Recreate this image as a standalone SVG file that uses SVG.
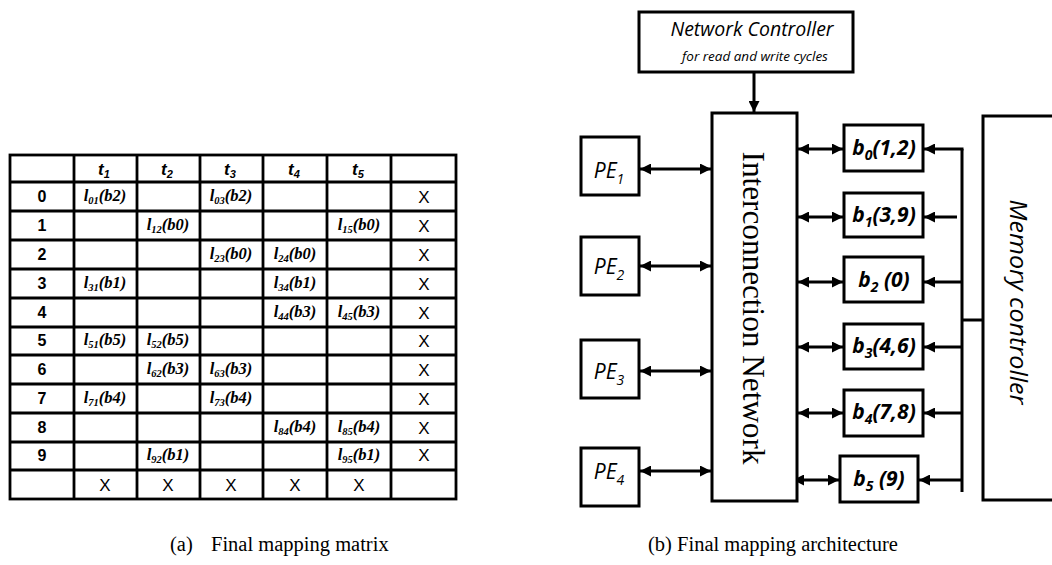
<svg xmlns="http://www.w3.org/2000/svg" width="1052" height="565" viewBox="0 0 1052 565">
<defs>
<marker id="ah" markerUnits="userSpaceOnUse" markerWidth="11" markerHeight="11" refX="10" refY="5" orient="auto-start-reverse" viewBox="0 0 10 10">
<path d="M0,0 L10,5 L0,10 z" fill="#000"/>
</marker>
<style>
.grid{stroke:#000;stroke-width:2.8;fill:none}
.rl{font-family:"Liberation Sans",Arial,sans-serif;font-weight:bold;font-size:16px;text-anchor:middle}
.hd{font-family:"Liberation Sans",Arial,sans-serif;font-weight:bold;font-style:italic;font-size:17px;text-anchor:middle}
.ce{font-family:"Liberation Serif","Times New Roman",serif;font-weight:bold;font-style:italic;font-size:16.5px;text-anchor:middle}
.x{font-family:"Liberation Sans",Arial,sans-serif;font-size:17px;text-anchor:middle}
.box{fill:#fff;stroke:#000;stroke-width:3}
.con{stroke:#000;stroke-width:3;fill:none}
.arr{marker-end:url(#ah)}
.dbl{marker-start:url(#ah);marker-end:url(#ah)}
.pe{font-family:"Open Sans","Liberation Sans",sans-serif;font-style:italic;font-size:21px;text-anchor:middle}
.bb{font-family:"Open Sans","Liberation Sans",sans-serif;font-style:italic;font-weight:bold;font-size:21px;text-anchor:middle}
.cap{font-family:"Liberation Serif","Times New Roman",serif;font-size:20.5px}
</style>
</defs>
<rect width="1052" height="565" fill="#fff"/>

<g id="matrix">
<g class="grid">
<rect x="10" y="155" width="446" height="344"/>
<path d="M74,155V499M137,155V499M200,155V499M263,155V499M327,155V499M391,155V499"/>
<path d="M10,182H456M10,211H456M10,240H456M10,269H456M10,298H456M10,327H456M10,355H456M10,384H456M10,413H456M10,442H456M10,470H456"/>
</g>
<g>
<text class="hd" x="104" y="175">t<tspan font-size="11" dy="3">1</tspan></text>
<text class="hd" x="167" y="175">t<tspan font-size="11" dy="3">2</tspan></text>
<text class="hd" x="230" y="175">t<tspan font-size="11" dy="3">3</tspan></text>
<text class="hd" x="294" y="175">t<tspan font-size="11" dy="3">4</tspan></text>
<text class="hd" x="358" y="175">t<tspan font-size="11" dy="3">5</tspan></text>
</g>
<g>
<text class="rl" x="42" y="202">0</text>
<text class="rl" x="42" y="231">1</text>
<text class="rl" x="42" y="260">2</text>
<text class="rl" x="42" y="289">3</text>
<text class="rl" x="42" y="318">4</text>
<text class="rl" x="42" y="346">5</text>
<text class="rl" x="42" y="375">6</text>
<text class="rl" x="42" y="404">7</text>
<text class="rl" x="42" y="433">8</text>
<text class="rl" x="42" y="461">9</text>
</g>
<g>
<text class="ce" x="105" y="201">l<tspan font-size="10.5" dy="3">01</tspan><tspan dy="-3">(b2)</tspan></text>
<text class="ce" x="231" y="201">l<tspan font-size="10.5" dy="3">03</tspan><tspan dy="-3">(b2)</tspan></text>
<text class="ce" x="168" y="230">l<tspan font-size="10.5" dy="3">12</tspan><tspan dy="-3">(b0)</tspan></text>
<text class="ce" x="359" y="230">l<tspan font-size="10.5" dy="3">15</tspan><tspan dy="-3">(b0)</tspan></text>
<text class="ce" x="231" y="259">l<tspan font-size="10.5" dy="3">23</tspan><tspan dy="-3">(b0)</tspan></text>
<text class="ce" x="295" y="259">l<tspan font-size="10.5" dy="3">24</tspan><tspan dy="-3">(b0)</tspan></text>
<text class="ce" x="105" y="288">l<tspan font-size="10.5" dy="3">31</tspan><tspan dy="-3">(b1)</tspan></text>
<text class="ce" x="295" y="288">l<tspan font-size="10.5" dy="3">34</tspan><tspan dy="-3">(b1)</tspan></text>
<text class="ce" x="295" y="317">l<tspan font-size="10.5" dy="3">44</tspan><tspan dy="-3">(b3)</tspan></text>
<text class="ce" x="359" y="317">l<tspan font-size="10.5" dy="3">45</tspan><tspan dy="-3">(b3)</tspan></text>
<text class="ce" x="105" y="345">l<tspan font-size="10.5" dy="3">51</tspan><tspan dy="-3">(b5)</tspan></text>
<text class="ce" x="168" y="345">l<tspan font-size="10.5" dy="3">52</tspan><tspan dy="-3">(b5)</tspan></text>
<text class="ce" x="168" y="374">l<tspan font-size="10.5" dy="3">62</tspan><tspan dy="-3">(b3)</tspan></text>
<text class="ce" x="231" y="374">l<tspan font-size="10.5" dy="3">63</tspan><tspan dy="-3">(b3)</tspan></text>
<text class="ce" x="105" y="403">l<tspan font-size="10.5" dy="3">71</tspan><tspan dy="-3">(b4)</tspan></text>
<text class="ce" x="231" y="403">l<tspan font-size="10.5" dy="3">73</tspan><tspan dy="-3">(b4)</tspan></text>
<text class="ce" x="295" y="432">l<tspan font-size="10.5" dy="3">84</tspan><tspan dy="-3">(b4)</tspan></text>
<text class="ce" x="359" y="432">l<tspan font-size="10.5" dy="3">85</tspan><tspan dy="-3">(b4)</tspan></text>
<text class="ce" x="168" y="460">l<tspan font-size="10.5" dy="3">92</tspan><tspan dy="-3">(b1)</tspan></text>
<text class="ce" x="359" y="460">l<tspan font-size="10.5" dy="3">95</tspan><tspan dy="-3">(b1)</tspan></text>
</g>
<g>
<text class="x" x="424" y="203">X</text>
<text class="x" x="424" y="232">X</text>
<text class="x" x="424" y="261">X</text>
<text class="x" x="424" y="290">X</text>
<text class="x" x="424" y="319">X</text>
<text class="x" x="424" y="347">X</text>
<text class="x" x="424" y="376">X</text>
<text class="x" x="424" y="405">X</text>
<text class="x" x="424" y="434">X</text>
<text class="x" x="424" y="461">X</text>
<text class="x" x="105" y="491">X</text>
<text class="x" x="168" y="491">X</text>
<text class="x" x="231" y="491">X</text>
<text class="x" x="295" y="491">X</text>
<text class="x" x="359" y="491">X</text>
</g>
</g>

<g id="connectors">
<line class="con arr" x1="754" y1="72" x2="754" y2="112"/>
<line class="con dbl" x1="640" y1="169" x2="711" y2="169"/>
<line class="con dbl" x1="640" y1="266" x2="711" y2="266"/>
<line class="con dbl" x1="640" y1="371" x2="711" y2="371"/>
<line class="con dbl" x1="640" y1="471" x2="711" y2="471"/>
<line class="con dbl" x1="798" y1="149" x2="843" y2="149"/>
<line class="con dbl" x1="798" y1="217" x2="843" y2="217"/>
<line class="con dbl" x1="798" y1="282" x2="843" y2="282"/>
<line class="con dbl" x1="798" y1="347" x2="843" y2="347"/>
<line class="con dbl" x1="798" y1="413" x2="843" y2="413"/>
<line class="con dbl" x1="793" y1="480" x2="839" y2="480"/>
<path class="con" d="M962,492V149"/>
<line class="con arr" x1="963.5" y1="149" x2="924" y2="149"/>
<line class="con arr" x1="957" y1="217" x2="924" y2="217"/>
<line class="con arr" x1="962" y1="282" x2="924" y2="282"/>
<line class="con arr" x1="962" y1="347" x2="924" y2="347"/>
<line class="con arr" x1="962" y1="413" x2="924" y2="413"/>
<line class="con arr" x1="962" y1="480" x2="919" y2="480"/>
<line class="con" x1="962" y1="320" x2="983" y2="320"/>
</g>

<g id="network-controller">
<rect class="box" x="639" y="12" width="214" height="60"/>
<text x="752" y="36" font-family="Open Sans, Liberation Sans, sans-serif" font-style="italic" font-size="19.5" text-anchor="middle">Network Controller</text>
<text x="755" y="61" font-family="Open Sans, Liberation Sans, sans-serif" font-style="italic" font-size="13.5" text-anchor="middle">for read and write cycles</text>
</g>

<g id="interconnection-network">
<rect class="box" x="712" y="113" width="85" height="388"/>
<text transform="translate(743,308) rotate(90)" font-family="Liberation Serif, Times New Roman, serif" font-size="31" text-anchor="middle" textLength="313" lengthAdjust="spacingAndGlyphs">Interconnection Network</text>
</g>

<g id="pe1"><rect class="box" x="581" y="137" width="58" height="58"/><text class="pe" x="609" y="178">PE<tspan font-size="14" dy="6">1</tspan></text></g>
<g id="pe2"><rect class="box" x="581" y="237" width="58" height="58"/><text class="pe" x="609" y="274">PE<tspan font-size="14" dy="6">2</tspan></text></g>
<g id="pe3"><rect class="box" x="581" y="340" width="58" height="58"/><text class="pe" x="609" y="379">PE<tspan font-size="14" dy="6">3</tspan></text></g>
<g id="pe4"><rect class="box" x="581" y="448" width="58" height="58"/><text class="pe" x="609" y="479">PE<tspan font-size="14" dy="6">4</tspan></text></g>

<g id="b0"><rect class="box" x="844" y="125" width="79" height="46"/><text class="bb" x="884" y="155">b<tspan font-size="14" dy="5">0</tspan><tspan dy="-5">(1,2)</tspan></text></g>
<g id="b1"><rect class="box" x="844" y="193" width="79" height="44"/><text class="bb" x="884" y="222">b<tspan font-size="14" dy="5">1</tspan><tspan dy="-5">(3,9)</tspan></text></g>
<g id="b2"><rect class="box" x="844" y="257" width="79" height="45"/><text class="bb" x="884" y="287">b<tspan font-size="14" dy="5">2</tspan><tspan dy="-5"> (0)</tspan></text></g>
<g id="b3"><rect class="box" x="844" y="324" width="79" height="45"/><text class="bb" x="884" y="353">b<tspan font-size="14" dy="5">3</tspan><tspan dy="-5">(4,6)</tspan></text></g>
<g id="b4"><rect class="box" x="844" y="390" width="79" height="46"/><text class="bb" x="884" y="419">b<tspan font-size="14" dy="5">4</tspan><tspan dy="-5">(7,8)</tspan></text></g>
<g id="b5"><rect class="box" x="840" y="456" width="78" height="46"/><text class="bb" x="879" y="486">b<tspan font-size="14" dy="5">5</tspan><tspan dy="-5"> (9)</tspan></text></g>

<g id="memory-controller">
<rect class="box" x="983" y="116" width="90" height="384"/>
<text transform="translate(1010,302) rotate(90)" font-family="Open Sans, Liberation Sans, sans-serif" font-style="italic" font-size="23" text-anchor="middle" textLength="205" lengthAdjust="spacingAndGlyphs">Memory controller</text>
</g>

<g id="captions">
<text class="cap" x="170" y="551">(a)</text>
<text class="cap" x="211" y="551">Final mapping matrix</text>
<text class="cap" x="648" y="551">(b) Final mapping architecture</text>
</g>
</svg>
